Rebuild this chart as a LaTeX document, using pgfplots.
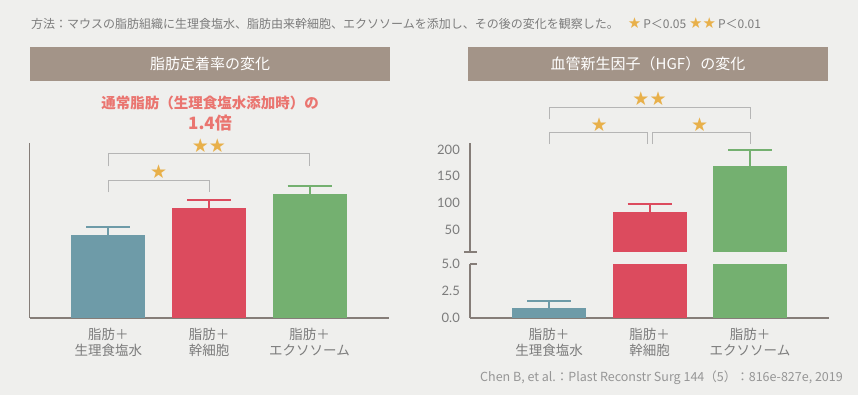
\documentclass[border=0pt]{standalone}
\usepackage{pgfplots}
\pgfplotsset{compat=1.18}
\usepackage{fontspec}
\setmainfont{Lato}
\newfontfamily\cjk{Noto Sans CJK JP}
\newfontfamily\sym{DejaVu Sans}
\definecolor{bg}{HTML}{EFEFED}
\definecolor{hdr}{HTML}{A39488}
\definecolor{cblue}{HTML}{6E9BA8}
\definecolor{cred}{HTML}{DC4B5E}
\definecolor{cgreen}{HTML}{74B070}
\definecolor{axcol}{HTML}{857D78}
\definecolor{brk}{HTML}{B5B5B5}
\definecolor{starc}{HTML}{E8B04A}
\definecolor{txt}{HTML}{7C7C7C}
\definecolor{salmon}{HTML}{EA7570}
\pgfplotsset{
  common/.style={
    scale only axis, width=359pt,
    xmin=-0.786, xmax=2.786,
    major tick length=0pt,
    xtick={0,1,2},
    xticklabels={{脂肪＋\\生理食塩水},{脂肪＋\\幹細胞},{脂肪＋\\エクソソーム}},
    xticklabel style={align=center, font=\cjk\fontsize{13.5}{16}\selectfont, text=txt, inner sep=0pt, yshift=-10pt},
    yticklabel style={font=\fontsize{13}{15}\selectfont, text=txt, inner sep=0pt, xshift=-10pt},
    /pgf/number format/assume math mode=true,
    clip mode=individual,
  },
  noarrow/.style={
    axis line style={-, draw=axcol, line width=1.1pt},
    x axis line style={-}, y axis line style={-},
  },
  bstyle/.style={ybar, bar width=74pt, bar shift=0pt, fill=#1, draw=none,
    error bars/.cd, y dir=plus, y explicit,
    error bar style={line width=2pt, draw=#1},
    error mark options={rotate=90, line width=2pt, mark size=22pt, draw=#1}},
  nstyle/.style={ybar, bar width=74pt, bar shift=0pt, fill=#1, draw=none},
}
\newcommand{\st}[1]{{\sym\fontsize{19}{19}\selectfont #1}}
\begin{document}
\begin{tikzpicture}[x=1pt,y=1pt]
\path[use as bounding box, fill=bg] (0,0) rectangle (858,395);
% top description
\node[anchor=west, text=txt, font=\cjk\fontsize{12}{14}\selectfont, inner sep=0] at (31,371)
  {方法：マウスの脂肪組織に生理食塩水、脂肪由来幹細胞、エクソソームを添加し、その後の変化を観察した。\hspace{9pt}{\sym\fontsize{15}{15}\selectfont\color{starc}★}\,P＜0.05\hspace{3pt}{\sym\fontsize{15}{15}\selectfont\color{starc}★★}\,P＜0.01};
% headers
\fill[hdr] (30,314) rectangle (390,348);
\node[text=white, font=\cjk\fontsize{15}{18}\selectfont] at (210,331) {脂肪定着率の変化};
\fill[hdr] (468,314) rectangle (828,348);
\node[text=white, font=\cjk\fontsize{15}{18}\selectfont] at (648,331) {血管新生因子（HGF）の変化};
% red title
\node[text=salmon, font=\cjk\bfseries\fontsize{14.5}{18}\selectfont] at (210,292) {通常脂肪（生理食塩水添加時）の};
\node[text=salmon, font=\cjk\bfseries\fontsize{17}{20}\selectfont] at (210,272) {1.4倍};

% left axis
\begin{axis}[common, at={(29.5pt,77pt)}, anchor=south west, height=175pt,
  ymin=0, ymax=175, ytick=\empty,
  axis x line=bottom, axis y line=left, noarrow]
\addplot[bstyle=cblue] coordinates {(0,83) +- (0,8.3)};
\addplot[bstyle=cred] coordinates {(1,110) +- (0,8)};
\addplot[bstyle=cgreen] coordinates {(2,124) +- (0,8.3)};
\draw[brk, line width=1pt] (axis cs:0,125.6) -- (axis cs:0,137.6) -- (axis cs:1,137.6) -- (axis cs:1,125.6);
\draw[brk, line width=1pt] (axis cs:0,151.6) -- (axis cs:0,164) -- (axis cs:2,164) -- (axis cs:2,151.6);
\node[text=starc, inner sep=0] at (axis cs:0.5,146) {\st{★}};
\node[text=starc, inner sep=0] at (axis cs:1,172) {\st{★★}};
\end{axis}

% right lower axis
\begin{axis}[common, at={(470pt,77pt)}, anchor=south west, height=54pt,
  ymin=0, ymax=5, ytick={0,2.5,5}, yticklabels={0.0,2.5,5.0},
  axis x line=bottom, axis y line=left, noarrow]
\addplot[bstyle=cblue] coordinates {(0,0.95) +- (0,0.67)};
\addplot[nstyle=cred] coordinates {(1,5)};
\addplot[nstyle=cgreen] coordinates {(2,5)};
\end{axis}

% right upper axis
\begin{axis}[common, at={(470pt,143pt)}, anchor=south west, height=109pt,
  ymin=8.2, ymax=212.5, ytick={50,100,150,200}, yticklabels={50,100,150,200},
  axis x line=none, axis y line=left, xticklabels={}, noarrow]
\addplot[bstyle=cred] coordinates {(1,83.2) +- (0,14.2)};
\addplot[bstyle=cgreen] coordinates {(2,169.4) +- (0,29.3)};
\draw[brk, line width=1pt] (axis cs:0,210.6) -- (axis cs:0,233.1) -- (axis cs:0.975,233.1) -- (axis cs:0.975,210.6);
\draw[brk, line width=1pt] (axis cs:1.025,210.6) -- (axis cs:1.025,233.1) -- (axis cs:2,233.1) -- (axis cs:2,210.6);
\draw[brk, line width=1pt] (axis cs:0,256.7) -- (axis cs:0,279.2) -- (axis cs:2,279.2) -- (axis cs:2,256.7);
\node[text=starc, inner sep=0] at (axis cs:0.5,246.8) {\st{★}};
\node[text=starc, inner sep=0] at (axis cs:1.5,246.8) {\st{★}};
\node[text=starc, inner sep=0] at (axis cs:1,295.5) {\st{★★}};
\end{axis}
% break ticks
\draw[axcol, line width=1.1pt] (464,143) -- (477,143);
\draw[axcol, line width=1.1pt] (470,131) -- (477,131);
% citation
\node[anchor=east, text=txt!80, font=\cjk\fontsize{12.5}{14}\selectfont, inner sep=0] at (843,17)
  {Chen B, et al.：Plast Reconstr Surg 144（5）：816e-827e, 2019};
\end{tikzpicture}
\end{document}
